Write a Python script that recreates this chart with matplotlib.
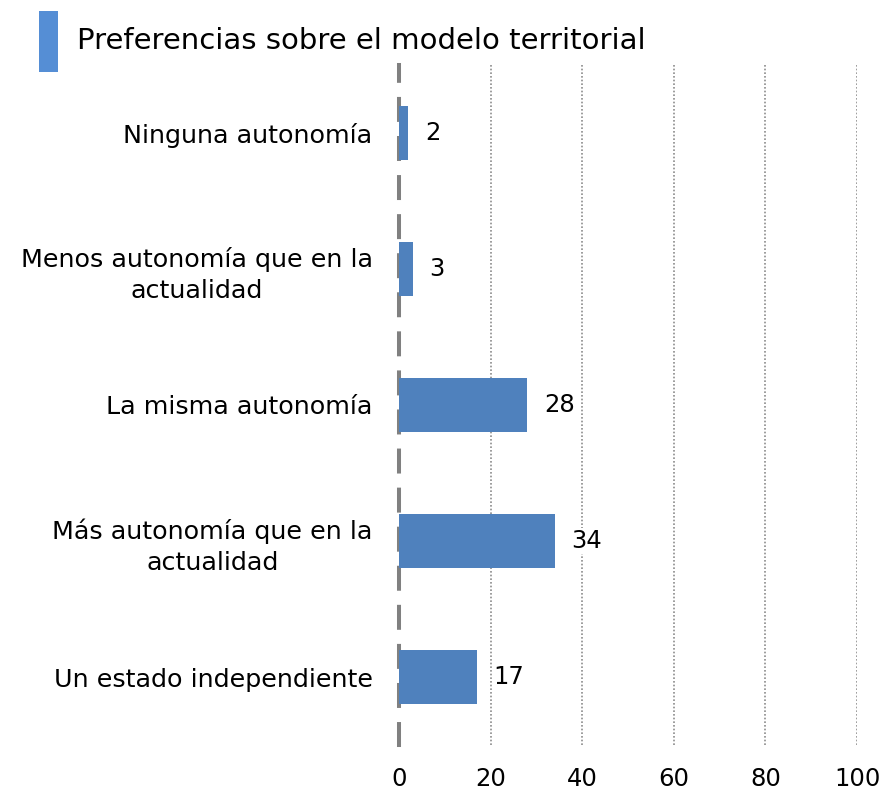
import matplotlib
matplotlib.use("Agg")
import matplotlib.pyplot as plt
from matplotlib.patches import Rectangle

categories = ["Ninguna autonomía",
              "Menos autonomía que en la\nactualidad",
              "La misma autonomía",
              "Más autonomía que en la\nactualidad",
              "Un estado independiente"]
values = [2, 3, 28, 34, 17]
xticks = [0, 20, 40, 60, 80, 100]
legend_label = "Preferencias sobre el modelo territorial"
bar_color = "#4F81BD"

plt.rcParams['font.family'] = ['DejaVu Sans']

fig = plt.figure(figsize=(8.8, 7.93), dpi=100)
ax = fig.add_axes([399/880, 1-745/793, (857-399)/880, (745-65)/793])

y = list(range(len(categories)))[::-1]
ax.barh(y, values, height=0.4, color=bar_color, edgecolor='none', zorder=3)

ax.set_xlim(0, 100)
ax.set_ylim(-0.5, 4.5)
ax.set_xticks(xticks)
ax.set_xticklabels([str(t) for t in xticks], fontsize=17.5)
ax.set_yticks(y)
ax.set_yticklabels(categories, fontsize=18.3, multialignment='center', linespacing=1.35)
ax.tick_params(axis='both', length=0)
ax.tick_params(axis='x', pad=16)
ax.tick_params(axis='y', pad=19)

for s in ['top', 'right', 'bottom']:
    ax.spines[s].set_visible(False)
ax.spines['left'].set_color('#808080')
ax.spines['left'].set_linewidth(2.9)
ax.spines['left'].set_linestyle((0, (5.2, 4.5)))
ax.spines['left'].set_zorder(2)

for t in xticks[1:]:
    ax.axvline(t, color='#8c8c8c', linestyle=(0, (1, 1.2)), linewidth=1.2, zorder=1)

for yi, v in zip(y, values):
    ax.annotate(str(v), xy=(v, yi), xytext=(12, 0), textcoords='offset points',
                ha='left', va='center', fontsize=17.5, zorder=4,
                bbox=dict(facecolor='white', edgecolor='none', pad=1))

fig.add_artist(Rectangle((39/880, 1-72/793), 19/880, 61/793, transform=fig.transFigure,
                         facecolor='#558ED5', edgecolor='none'))
fig.text(77/880, 1-41/793, legend_label, fontsize=21, va='center', ha='left')

fig.savefig("out.png", dpi=100)
